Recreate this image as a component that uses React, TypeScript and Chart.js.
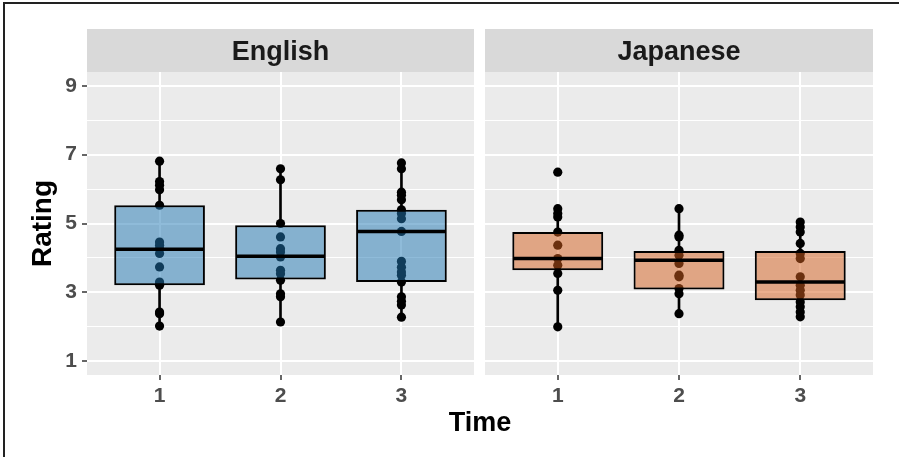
import React, { useEffect, useRef } from "react";
import { Chart, registerables } from "chart.js";

Chart.register(...registerables);

// ---------- data ----------
const TIMES = [1, 2, 3];
const TIME_LABELS = ["1", "2", "3"];
const Y_TICKS = [1, 3, 5, 7, 9];
const Y_MINOR = [2, 4, 6, 8];
const Y_MIN = 0.6;
const Y_MAX = 9.4;
const PANEL_NAMES = ["English", "Japanese"];
const X_TITLE = "Time";
const Y_TITLE = "Rating";

// individual ratings (dot columns)
const EN_T1 = [6.81, 6.22, 6.11, 5.98, 5.53, 4.46, 4.37, 4.27, 4.13, 3.74, 3.3, 3.21, 2.43, 2.38, 2.02];
const EN_T2 = [6.59, 6.27, 5.0, 4.61, 4.27, 4.17, 4.03, 3.64, 3.54, 3.35, 2.96, 2.87, 2.14];
const EN_T3 = [6.76, 6.59, 5.91, 5.82, 5.69, 5.4, 5.29, 5.14, 4.77, 3.9, 3.73, 3.59, 3.5, 3.3, 2.87, 2.74, 2.63, 2.28];
const JA_T1 = [6.49, 5.43, 5.29, 5.19, 4.75, 4.37, 3.98, 3.79, 3.55, 3.06, 2.0];
const JA_T2 = [5.43, 4.66, 4.61, 4.22, 4.08, 3.84, 3.5, 3.45, 3.11, 2.96, 2.38];
const JA_T3 = [5.04, 4.9, 4.75, 4.42, 4.13, 3.98, 3.45, 3.21, 3.06, 2.92, 2.72, 2.58, 2.43, 2.29];

// box statistics per time
const EN_LO = [2.02, 2.14, 2.28];
const EN_Q1 = [3.21, 3.37, 3.3];
const EN_MED = [4.25, 4.05, 4.77];
const EN_Q3 = [5.53, 4.95, 5.4];
const EN_HI = [6.81, 6.59, 6.76];

const JA_LO = [2.0, 2.38, 2.29];
const JA_Q1 = [3.64, 3.08, 2.77];
const JA_MED = [3.98, 3.93, 3.3];
const JA_Q3 = [4.75, 4.2, 4.2];
const JA_HI = [5.43, 5.43, 5.04];

// ---------- styles ----------
const FONT = "'Liberation Sans', Arial, Helvetica, sans-serif";
const BOX_WIDTH = 0.75;
const PANEL_BG = "#EBEBEB";
const STRIP_BG = "#D9D9D9";
const BLUE_FILL = "rgba(31,119,180,0.5)";
const ORANGE_FILL = "rgba(213,96,30,0.5)";

const panelBgPlugin = {
  id: "panelBg",
  beforeDraw(chart: any) {
    const { ctx, chartArea } = chart;
    if (!chartArea) return;
    ctx.save();
    ctx.fillStyle = PANEL_BG;
    ctx.fillRect(chartArea.left, chartArea.top, chartArea.right - chartArea.left, chartArea.bottom - chartArea.top);
    const tb = chart.titleBlock;
    if (tb) {
      ctx.fillStyle = STRIP_BG;
      ctx.fillRect(chartArea.left, tb.top, chartArea.right - chartArea.left, chartArea.top - tb.top);
    }
    ctx.restore();
  },
};

const medianPlugin = {
  id: "medianLines",
  afterDatasetsDraw(chart: any, _args: any, opts: any) {
    const xs = chart.scales.x;
    const ys = chart.scales.y;
    const meds: number[] = opts.values || [];
    const { ctx } = chart;
    ctx.save();
    ctx.strokeStyle = "#000";
    ctx.lineWidth = 3.5;
    TIMES.forEach((t, i) => {
      const x1 = xs.getPixelForValue(t - BOX_WIDTH / 2);
      const x2 = xs.getPixelForValue(t + BOX_WIDTH / 2);
      const y = ys.getPixelForValue(meds[i]);
      ctx.beginPath();
      ctx.moveTo(x1 + 1, y);
      ctx.lineTo(x2 - 1, y);
      ctx.stroke();
    });
    ctx.restore();
  },
};

type PanelProps = {
  left: number;
  width: number;
  height: number;
  padLeft: number;
  padRight: number;
  title: string;
  points: number[][];
  lo: number[];
  q1: number[];
  med: number[];
  q3: number[];
  hi: number[];
  fill: string;
  showY: boolean;
};

function Panel(p: PanelProps) {
  const ref = useRef<HTMLCanvasElement | null>(null);
  useEffect(() => {
    if (!ref.current) return;
    const pts = p.points.flatMap((arr, i) => arr.map((v) => ({ x: TIMES[i], y: v })));
    const boxes = TIMES.map((t, i) => ({ x: t, y: [p.q1[i], p.q3[i]] }));
    const lower = TIMES.map((t, i) => ({ x: t, y: [p.lo[i], p.q1[i]] }));
    const upper = TIMES.map((t, i) => ({ x: t, y: [p.q3[i], p.hi[i]] }));
    const allY = [...Y_TICKS, ...Y_MINOR].sort((a, b) => a - b);

    const chart = new Chart(ref.current, {
      type: "scatter",
      data: {
        datasets: [
          {
            type: "bar",
            data: boxes as any,
            backgroundColor: p.fill,
            borderColor: "#000",
            borderWidth: 2,
            borderSkipped: false,
            grouped: false,
            categoryPercentage: 1,
            barPercentage: BOX_WIDTH,
            order: 0,
          } as any,
          {
            type: "scatter",
            data: pts,
            pointRadius: 4.6,
            pointBackgroundColor: "#000",
            pointBorderWidth: 0,
            order: 1,
          } as any,
          {
            type: "bar",
            data: lower as any,
            backgroundColor: "#000",
            barThickness: 2,
            grouped: false,
            borderWidth: 0,
            order: 2,
          } as any,
          {
            type: "bar",
            data: upper as any,
            backgroundColor: "#000",
            barThickness: 2,
            grouped: false,
            borderWidth: 0,
            order: 2,
          } as any,
        ],
      },
      options: {
        animation: false,
        responsive: false,
        events: [],
        layout: { padding: { left: p.padLeft, right: p.padRight, top: 29, bottom: 0 } },
        plugins: {
          legend: { display: false },
          tooltip: { enabled: false },
          title: {
            display: true,
            text: p.title,
            fullSize: false,
            color: "#1A1A1A",
            font: { family: FONT, size: 27, weight: "bold", lineHeight: 1.2 },
            padding: { top: 7, bottom: 3.6 },
          },
          medianLines: { values: p.med },
        } as any,
        scales: {
          x: {
            type: "linear",
            min: 0.4,
            max: 3.6,
            offset: false,
            afterBuildTicks: (s: any) => {
              s.ticks = TIMES.map((v) => ({ value: v }));
            },
            afterFit: (s: any) => {
              s.height = 35;
            },
            ticks: {
              autoSkip: false,
              padding: 4,
              color: "#4D4D4D",
              font: { family: FONT, size: 21, weight: "bold", lineHeight: 1.2 },
              callback: (v: any) => TIME_LABELS[TIMES.indexOf(Number(v))] ?? "",
            },
            grid: {
              offset: false,
              color: "#FFFFFF",
              lineWidth: 2,
              drawTicks: true,
              tickLength: 5,
              tickColor: "#333333",
              tickWidth: 1.5,
            },
            border: { display: false },
          },
          y: {
            type: "linear",
            min: Y_MIN,
            max: Y_MAX,
            beginAtZero: false,
            afterBuildTicks: (s: any) => {
              s.ticks = allY.map((v) => ({ value: v }));
            },
            afterFit: (s: any) => {
              s.width = p.showY ? 87 : 0;
            },
            title: {
              display: p.showY,
              text: Y_TITLE,
              color: "#000",
              font: { family: FONT, size: 28, weight: "bold", lineHeight: 1.2 },
              padding: { top: 26, bottom: 0 },
            },
            ticks: {
              display: p.showY,
              autoSkip: false,
              padding: 5,
              color: "#4D4D4D",
              font: { family: FONT, size: 21, weight: "bold", lineHeight: 1.2 },
              callback: (v: any) => (Y_TICKS.includes(Number(v)) ? String(v) : ""),
            },
            grid: {
              color: "#FFFFFF",
              lineWidth: (c: any) => (c.tick && Y_TICKS.includes(c.tick.value) ? 2 : 1),
              drawTicks: p.showY,
              tickLength: 5,
              tickColor: (c: any) => (c.tick && Y_TICKS.includes(c.tick.value) ? "#333333" : "rgba(0,0,0,0)"),
              tickWidth: 1.5,
            },
            border: { display: false },
          },
        },
      } as any,
      plugins: [panelBgPlugin, medianPlugin],
    });
    return () => chart.destroy();
  }, []);
  return (
    <canvas
      ref={ref}
      width={p.width}
      height={p.height}
      style={{ position: "absolute", left: p.left, top: 0, width: p.width, height: p.height }}
    />
  );
}

export default function App() {
  return (
    <div
      style={{
        position: "fixed",
        left: 0,
        top: 0,
        width: 899,
        height: 457,
        background: "#fff",
        overflow: "hidden",
      }}
    >
      <div
        style={{
          position: "absolute",
          left: 3,
          top: 2,
          width: 896,
          height: 455,
          borderTop: "2px solid #222",
          borderLeft: "2px solid #222",
          boxSizing: "border-box",
        }}
      />
      <Panel
        left={0}
        width={480}
        height={410}
        padLeft={0}
        padRight={6}
        title={PANEL_NAMES[0]}
        points={[EN_T1, EN_T2, EN_T3]}
        lo={EN_LO}
        q1={EN_Q1}
        med={EN_MED}
        q3={EN_Q3}
        hi={EN_HI}
        fill={BLUE_FILL}
        showY={true}
      />
      <Panel
        left={479}
        width={420}
        height={410}
        padLeft={6}
        padRight={26}
        title={PANEL_NAMES[1]}
        points={[JA_T1, JA_T2, JA_T3]}
        lo={JA_LO}
        q1={JA_Q1}
        med={JA_MED}
        q3={JA_Q3}
        hi={JA_HI}
        fill={ORANGE_FILL}
        showY={false}
      />
      <div
        style={{
          position: "absolute",
          left: 87,
          width: 786,
          top: 409,
          textAlign: "center",
          fontFamily: FONT,
          fontWeight: 700,
          fontSize: 27,
          lineHeight: "27px",
          color: "#000",
        }}
      >
        {X_TITLE}
      </div>
    </div>
  );
}
